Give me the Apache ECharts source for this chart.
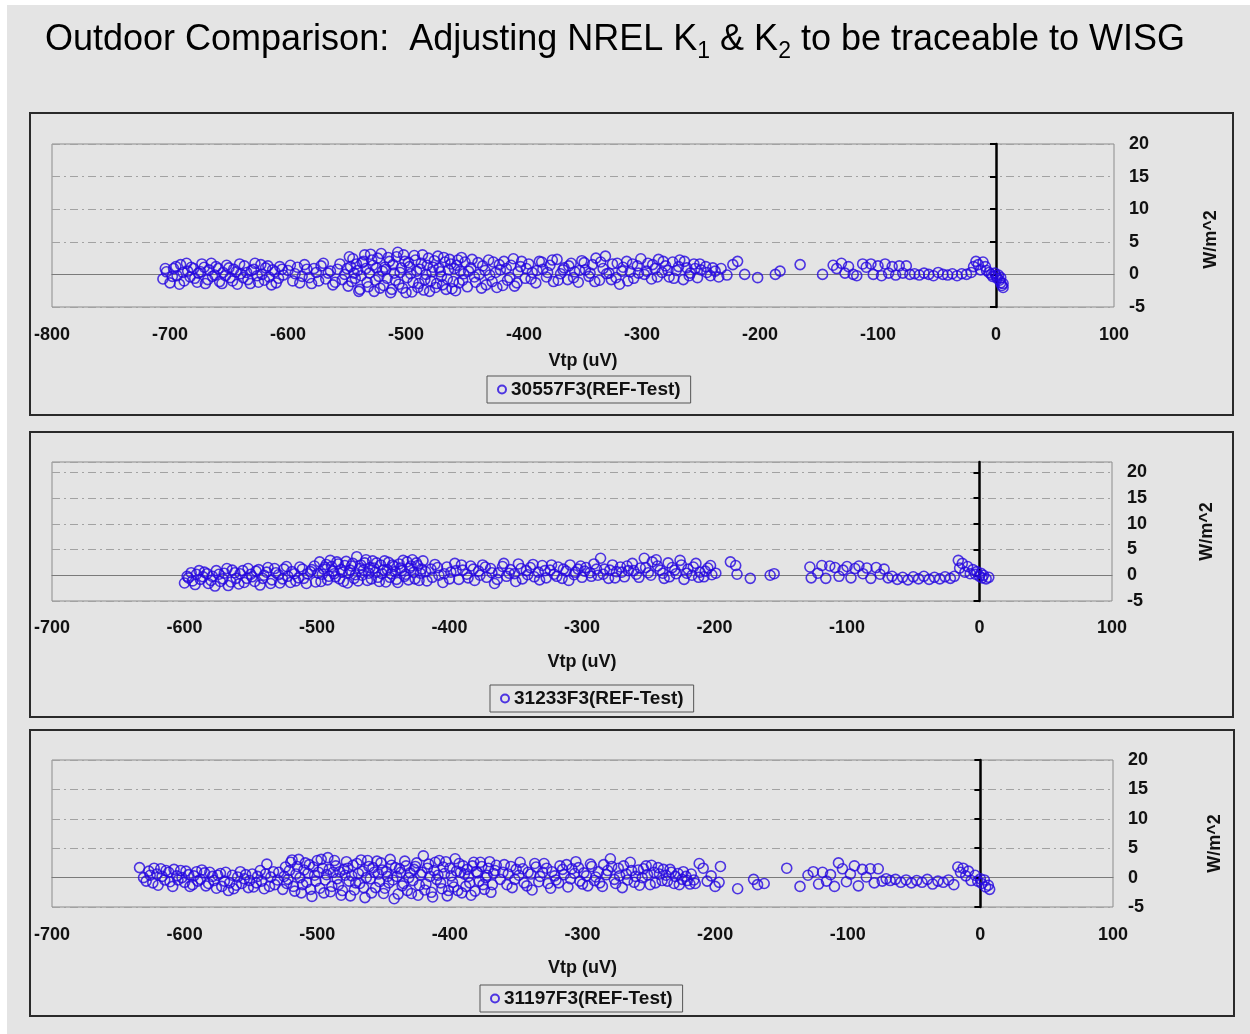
<!DOCTYPE html>
<html>
<head>
<meta charset="utf-8">
<script src="https://cdn.jsdelivr.net/npm/echarts@6/dist/echarts.min.js"></script>
<style>
  html, body { margin: 0; padding: 0; background: #fff; }
  #chart { width: 1250px; height: 1034px; }
</style>
</head>
<body>
<div id="chart"></div>
<script>
  // ---- data ----
  const seriesNames = ['30557F3(REF-Test)', '31233F3(REF-Test)', '31197F3(REF-Test)'];
  const xMins = [-800, -700, -700];
  const xMax = 100;
  const yMin = -5;
  const yMaxs = [20, 22, 20];
  const yTicks = [-5, 0, 5, 10, 15, 20];

  // 30557F3 : [Vtp uV, W/m^2]
  const pts1 = [
    [-706,-0.7],[-703,0.4],[-700,-1.3],[-697,0.9],[-694,-0.2],[-691,1.5],[-688,-1.0],[-685,0.5],[-682,1.1],[-679,-0.6],
    [-676,0.2],[-673,1.6],[-670,-1.4],[-667,0.7],[-664,-0.3],[-661,1.2],[-658,-1.1],[-655,0.3],[-652,1.4],[-649,-0.5],
    [-646,0.8],[-643,-1.5],[-640,0.1],[-637,1.3],[-634,-0.8],[-631,0.6],[-628,1.7],[-625,-1.2],[-622,0.0],[-619,1.0],
    [-616,-0.4],[-613,0.7],[-610,-1.3],[-607,1.2],[-604,-0.1],
    [-704,0.9],[-698,-0.3],[-695,1.2],[-692,-1.5],[-689,0.3],[-686,1.7],[-683,-0.4],[-680,0.9],[-677,-1.2],[-674,0.4],
    [-671,1.1],[-668,-0.8],[-665,1.7],[-662,-0.1],[-659,0.9],[-656,-1.4],[-653,-0.2],[-650,1.0],[-647,-1.0],[-644,0.4],
    [-641,1.6],[-638,-0.5],[-635,0.3],[-632,-1.4],[-629,0.8],[-626,-0.2],[-623,1.5],[-620,-0.9],[-617,1.3],[-614,-1.6],
    [-611,0.4],[-608,-0.6],[-605,0.8],
    [-600,0.6],[-596,-1.0],[-592,1.1],[-588,-0.3],[-584,0.8],[-580,-1.4],[-576,0.3],[-572,1.3],[-568,-0.7],[-564,0.5],
    [-560,-1.2],[-556,1.6],[-552,0.0],
    [-598,1.4],[-594,0.1],[-590,-1.3],[-586,1.5],[-582,-0.5],[-578,0.9],[-574,-1.0],[-570,1.7],[-566,0.2],[-562,-1.6],
    [-558,0.8],[-554,-0.8],
    [-549,-1.8],[-547,1.2],[-545,2.4],[-543,-0.6],[-541,0.6],[-539,-2.3],[-537,1.8],[-535,3.0],[-533,-1.2],[-531,0.2],
    [-529,2.2],[-527,-2.6],[-525,1.0],[-523,-0.3],[-521,3.2],[-519,-1.7],[-517,0.8],[-515,2.6],[-513,-2.8],[-511,1.5],
    [-509,-0.9],[-507,3.4],[-505,0.3],[-503,-2.1],[-501,2.0],[-499,-0.5],[-497,1.2],[-495,-2.7],[-493,2.9],[-491,0.5],
    [-489,-1.4],[-487,1.7],[-485,-2.4],[-483,0.0],[-481,2.5],[-479,-1.0],[-477,1.1],[-475,-2.0],[-473,2.8],[-471,0.4],
    [-469,-1.6],[-467,1.9],[-465,-0.7],[-463,2.3],[-461,-2.2],[-459,0.9],[-457,1.4],[-455,-1.3],[-453,2.6],[-451,0.1],
    [-550,0.9],[-548,2.7],[-546,-1.1],[-544,0.2],[-542,1.6],[-540,-2.6],[-538,-0.2],[-536,2.0],[-534,0.9],[-532,-1.9],
    [-530,3.1],[-528,1.4],[-526,-0.9],[-524,2.5],[-522,-2.1],[-520,0.5],[-518,1.1],[-516,-0.6],[-514,2.0],[-512,-2.3],
    [-510,0.2],[-508,2.7],[-506,-1.5],[-504,1.0],[-502,3.0],[-500,-2.8],[-498,1.8],[-496,0.1],[-494,-1.2],[-492,2.2],
    [-490,-2.0],[-488,0.8],[-486,3.0],[-484,-0.8],[-482,1.4],[-480,-2.6],[-478,0.4],[-476,2.1],[-474,-1.4],[-472,1.0],
    [-470,-0.3],[-468,2.6],[-466,-2.3],[-464,0.7],[-462,1.6],[-460,-1.1],[-458,-2.5],[-456,2.2],[-454,0.5],[-452,-0.9],
    [-450,1.9],
    [-448,-1.9],[-445,1.0],[-442,-0.4],[-439,1.8],[-436,-2.1],[-433,0.6],[-430,2.2],[-427,-1.1],[-424,0.3],[-421,1.5],
    [-418,-1.7],[-415,0.9],[-412,-0.5],[-409,2.4],[-406,-1.3],[-403,1.2],
    [-447,0.5],[-444,2.3],[-441,-1.2],[-438,0.0],[-435,1.3],[-432,-1.6],[-429,-0.1],[-426,1.9],[-423,-2.0],[-420,0.7],
    [-417,2.0],[-414,-0.9],[-411,1.4],[-408,-1.8],[-405,0.4],[-402,2.0],
    [-399,-0.6],[-396,1.6],[-393,0.3],[-390,-1.3],[-387,2.0],[-384,0.8],[-381,-0.4],[-378,1.4],[-375,-1.1],[-372,2.3],
    [-369,0.1],[-366,1.0],[-363,-0.8],[-360,1.7],[-357,0.4],[-354,-1.2],[-351,2.1],[-348,0.7],[-345,-0.3],[-342,1.5],
    [-339,2.5],[-336,-0.9],[-333,0.9],[-331,2.8],[-328,0.2],[-325,1.6],[-322,-0.5],[-319,-1.5],[-316,1.1],[-313,2.0],
    [-310,0.4],[-307,-0.6],[-304,1.3],[-301,2.4],
    [-398,0.9],[-394,-0.7],[-389,0.6],[-385,1.9],[-380,0.3],[-376,2.2],[-371,-0.9],[-367,0.7],[-362,1.3],[-358,-0.5],
    [-353,0.6],[-349,1.8],[-344,0.2],[-340,-1.1],[-335,1.9],[-330,0.1],[-326,-0.8],[-321,1.7],[-317,0.5],[-312,-1.0],
    [-308,1.6],[-303,0.2],
    [-298,0.0],[-295,1.7],[-292,-0.7],[-289,0.9],[-286,2.3],[-283,0.3],[-280,1.3],[-277,-0.4],[-274,1.9],[-271,0.6],
    [-268,2.2],[-265,-0.8],[-262,1.0],[-259,0.2],[-256,1.6],[-253,-0.5],[-250,0.7],[-246,1.2],[-242,-0.2],[-238,0.5],
    [-233,0.9],[-228,-0.1],
    [-296,0.5],[-291,1.5],[-287,-0.4],[-282,2.0],[-278,0.6],[-273,-0.6],[-269,1.2],[-264,2.0],[-260,-0.2],[-255,0.9],
    [-251,1.6],[-245,0.3],[-240,1.0],[-235,-0.4],
    [-223,1.5],[-219,2.0],[-213,0.0],[-202,-0.5],[-187,0.0],[-183,0.5],[-166,1.5],[-147,0.0],
    [-138,1.4],[-135,0.9],[-131,1.7],[-128,0.2],[-125,1.2],[-121,0.0],[-118,-0.2],
    [-113,1.6],[-110,1.1],[-106,1.6],[-104,0.0],[-100,1.3],[-97,-0.2],[-94,1.6],[-91,0.2],[-88,1.2],[-85,-0.1],
    [-82,1.3],[-79,0.2],[-76,1.3],[-73,0.0],
    [-69,0.1],[-65,-0.1],[-61,0.2],[-57,0.0],[-53,-0.2],[-49,0.3],[-45,0.0],[-41,-0.1],[-37,0.1],[-33,-0.2],
    [-29,0.1],[-25,0.0],[-21,0.3],
    [-19,1.2],[-17,2.0],[-15,1.5],[-13,0.7],[-11,1.9],[-9,1.2],[-8,0.6],
    [-6,0.3],[-4,0.0],[-3,-0.3],[-1,0.2],[0,-0.2],[1,-0.6],[2,-0.1],[3,-0.9],[4,-0.5],[4,-1.3],
    [5,-1.7],[6,-1.4],[6,-2.0]
  ];

  // 31233F3
  const pts2 = [
    [-600,-1.5],[-597,-0.5],[-594,-1.1],[-591,0.2],[-588,-0.8],[-585,0.6],[-582,-1.6],[-579,-0.2],[-576,0.9],[-573,-1.2],
    [-570,0.4],[-567,-2.0],[-564,1.0],[-561,-0.6],
    [-558,0.3],[-555,-1.4],[-552,1.3],[-549,-0.3],[-546,0.8],[-543,-1.9],[-540,0.0],[-537,1.5],[-534,-0.9],[-531,0.5],
    [-528,-1.5],[-525,1.2],[-522,-0.2],[-519,0.7],[-516,-1.1],[-513,1.6],[-510,-0.6],[-507,0.3],[-504,1.1],[-501,-1.3],
    [-598,-0.2],[-595,0.5],[-592,-1.8],[-589,0.9],[-586,-0.3],[-583,0.3],[-580,-1.0],[-577,-2.1],[-574,0.2],[-571,-0.7],
    [-568,1.3],[-565,-1.3],[-562,0.5],[-559,-1.7],[-556,0.9],[-553,-0.6],[-550,0.2],[-547,-1.2],[-544,1.1],[-541,-0.6],
    [-538,0.6],[-535,-1.6],[-532,1.3],[-529,0.1],[-526,-0.7],[-523,1.7],[-520,-1.4],[-517,0.3],[-514,-0.5],[-511,1.2],
    [-508,-1.6],[-505,0.7],[-502,1.8],
    [-498,2.6],[-496,0.2],[-494,1.6],[-492,-0.9],[-490,2.9],[-488,0.8],[-486,-0.3],[-484,2.2],[-482,1.1],[-480,-1.2],
    [-478,2.7],[-476,0.5],[-474,1.8],[-472,-0.6],[-470,3.6],[-468,1.3],[-466,0.0],[-464,2.4],[-462,-1.0],[-460,1.5],
    [-458,2.8],[-456,0.6],[-454,-0.4],[-452,2.0],[-450,1.0],[-448,-1.3],[-446,2.5],[-444,0.3],[-442,1.7],[-440,-0.8],
    [-438,2.2],[-436,0.9],[-434,-0.2],[-432,2.6],[-430,1.4],[-428,3.0],[-426,-0.7],[-424,1.9],[-422,0.4],[-420,2.8],
    [-499,0.4],[-497,-1.2],[-495,1.2],[-493,2.1],[-491,-0.2],[-489,1.7],[-487,0.3],[-485,2.6],[-483,-0.7],[-481,0.6],
    [-479,1.9],[-477,-1.5],[-475,1.0],[-473,2.3],[-471,0.1],[-469,-1.1],[-467,2.0],[-465,1.0],[-463,3.0],[-461,0.4],
    [-459,-0.7],[-457,1.4],[-455,2.4],[-453,-1.2],[-451,0.3],[-449,2.8],[-447,1.1],[-445,-0.4],[-443,2.0],[-441,0.7],
    [-439,-1.4],[-437,1.4],[-435,2.9],[-433,0.2],[-431,-0.9],[-429,1.8],[-427,0.6],[-425,2.4],[-423,-1.0],[-421,1.2],
    [-417,-1.1],[-414,1.2],[-411,2.1],[-408,0.0],[-405,-1.4],[-402,1.6],[-399,0.6],[-396,2.3],[-393,-0.8],[-390,1.0],
    [-387,0.2],[-384,1.8],[-381,-1.0],[-378,0.8],[-375,2.0],[-372,-0.4],[-369,1.3],[-366,-1.6],[-363,0.5],[-360,1.7],
    [-357,-0.2],[-354,1.1],[-351,0.3],[-348,2.2],[-345,-0.7],[-342,0.9],[-339,1.5],[-336,-0.3],[-333,0.6],[-330,1.9],
    [-327,-0.5],[-324,1.0],[-321,0.2],[-318,1.6],[-315,-0.6],[-312,0.8],[-309,2.0],[-306,0.1],[-303,1.2],
    [-418,0.7],[-413,-0.4],[-409,1.5],[-404,0.3],[-400,-0.7],[-395,0.9],[-391,2.0],[-386,-0.5],[-382,1.2],[-377,0.0],
    [-373,1.6],[-368,0.5],[-364,-0.8],[-359,2.3],[-355,0.4],[-350,-1.2],[-346,1.3],[-341,0.1],[-337,2.1],[-332,-0.9],
    [-328,0.9],[-323,2.0],[-319,-0.2],[-314,1.2],[-310,-1.0],[-305,0.6],[-301,1.8],
    [-300,-0.4],[-297,1.5],[-294,0.5],[-291,2.2],[-288,0.0],[-286,3.3],[-283,1.2],[-280,-0.6],[-277,2.0],[-274,0.7],
    [-271,1.6],[-268,-0.3],[-265,0.9],[-262,2.3],[-259,0.2],[-256,1.4],[-253,3.3],[-250,0.5],[-247,2.6],[-244,3.0],
    [-241,1.0],[-238,-0.6],[-235,2.4],[-232,1.5],[-229,0.3],[-226,2.9],[-223,-0.8],[-220,1.2],[-217,0.0],[-214,2.3],
    [-211,0.6],[-208,-0.3],[-205,1.4],[-202,0.1],[-199,0.4],
    [-298,0.8],[-293,-0.2],[-289,1.2],[-284,0.2],[-279,1.0],[-275,-0.5],[-270,0.6],[-266,1.8],[-261,0.9],[-257,-0.4],
    [-252,1.5],[-248,0.0],[-243,1.8],[-239,0.4],[-234,-0.3],[-230,1.0],[-225,2.0],[-221,0.4],[-216,1.6],[-212,-0.4],
    [-207,0.8],[-203,1.9],
    [-188,2.6],[-184,1.9],[-183,0.2],[-173,-0.6],[-158,0.0],[-155,0.3],
    [-128,1.6],[-127,-0.5],[-122,0.4],[-119,1.9],[-116,-0.6],[-113,1.8],[-109,1.5],[-106,-0.2],[-103,1.0],[-100,1.7],
    [-97,-0.5],[-94,1.3],[-91,1.8],[-88,0.3],[-85,1.4],[-82,-0.6],[-78,1.5],[-75,0.2],[-72,1.2],[-69,-0.5],
    [-66,-0.2],[-62,-0.8],[-58,-0.4],[-54,-0.9],[-50,-0.3],[-46,-0.7],[-42,-0.2],[-38,-0.8],[-34,-0.4],[-30,-0.7],
    [-26,-0.3],[-22,-0.6],[-19,-0.2],
    [-16,2.9],[-15,1.4],[-13,2.3],[-11,0.6],[-9,1.7],[-7,0.3],[-5,1.1],[-3,0.2],[-2,0.7],[0,-0.2],
    [1,0.4],[2,-0.5],[3,0.0],[5,-0.7],[7,-0.4]
  ];

  // 31197F3
  const pts3 = [
    [-634,1.7],[-631,0.0],[-627,1.1],[-624,-0.9],[-621,0.6],[-618,1.5],[-615,-0.4],[-612,0.9],[-609,-1.5],[-606,0.3],
    [-603,1.2],[-600,-0.8],[-597,0.5],[-594,-1.2],[-591,1.0],[-588,-0.3],[-585,0.8],
    [-582,-1.0],[-579,0.2],[-576,-1.8],[-573,0.7],[-570,-0.6],[-567,-2.2],[-564,0.4],[-561,-1.3],[-558,1.0],[-555,-0.2],
    [-552,-1.7],[-549,0.6],[-546,-0.9],[-543,1.2],[-540,-1.9],[-538,2.3],[-535,0.1],[-532,-1.2],[-529,0.9],
    [-629,-0.6],[-626,0.4],[-623,1.6],[-620,-1.3],[-617,0.2],[-614,1.2],[-611,-0.7],[-608,1.4],[-605,-0.4],[-602,0.0],
    [-599,1.1],[-596,-1.5],[-593,0.3],[-590,-0.6],[-587,1.3],[-584,-1.4],[-581,0.9],[-578,-0.5],[-575,0.4],[-572,-1.5],
    [-569,0.9],[-566,-0.9],[-563,-1.9],[-560,0.1],[-557,-1.0],[-554,0.5],[-551,-0.5],[-548,-1.6],[-545,0.2],[-542,-0.6],
    [-539,0.6],[-536,-1.5],[-533,1.0],[-530,-0.4],
    [-526,-2.0],[-524,1.8],[-522,-0.3],[-520,2.6],[-518,-1.5],[-516,0.6],[-514,3.1],[-512,-2.6],[-510,1.3],[-508,-0.8],
    [-506,2.2],[-504,-3.2],[-502,0.4],[-500,2.9],[-498,-1.8],[-496,1.6],[-494,-0.4],[-492,3.4],[-490,-2.4],[-488,0.9],
    [-486,2.0],[-484,-1.2],[-482,-3.0],[-480,1.4],[-478,2.7],[-476,-0.6],[-474,0.3],[-472,-2.1],[-470,2.4],[-468,-1.0],
    [-466,1.1],[-464,-3.4],[-462,2.9],[-460,-0.2],[-458,1.7],[-456,-1.7],[-454,0.6],[-452,2.5],[-450,-2.7],[-448,1.0],
    [-446,-0.9],[-444,2.1],[-442,-3.6],[-440,0.2],[-438,1.5],[-436,-1.4],[-434,2.8],[-432,-2.2],[-430,0.8],[-428,-0.5],
    [-426,1.9],[-424,-3.0],[-422,0.5],[-420,3.7],[-418,-1.1],[-416,2.3],[-414,-2.5],[-412,1.2],[-410,-0.3],[-408,2.9],
    [-406,-1.9],[-404,0.7],[-402,-3.1],
    [-525,0.2],[-523,-1.0],[-521,1.2],[-519,3.0],[-517,-2.3],[-515,1.9],[-513,0.0],[-511,-1.2],[-509,2.5],[-507,0.7],
    [-505,-2.0],[-503,1.8],[-501,-0.6],[-499,0.9],[-497,3.1],[-495,-2.6],[-493,0.5],[-491,1.4],[-489,-1.5],[-487,2.9],
    [-485,-0.2],[-483,1.0],[-481,-2.2],[-479,0.4],[-477,1.6],[-475,-3.1],[-473,2.1],[-471,-0.9],[-469,0.7],[-467,3.0],
    [-465,-1.7],[-463,0.0],[-461,1.9],[-459,-2.6],[-457,0.9],[-455,2.8],[-453,-0.7],[-451,1.3],[-449,-1.8],[-447,0.2],
    [-445,3.1],[-443,-0.4],[-441,1.7],[-439,-2.8],[-437,0.9],[-435,-1.0],[-433,2.0],[-431,0.0],[-429,-2.7],[-427,1.4],
    [-425,2.5],[-423,-1.3],[-421,0.9],[-419,-2.1],[-417,1.6],[-415,0.2],[-413,-3.3],[-411,2.6],[-409,0.4],[-407,-0.9],
    [-405,1.8],[-403,2.7],[-401,-2.2],
    [-400,1.6],[-398,-0.8],[-396,3.2],[-394,-2.2],[-392,0.9],[-390,2.0],[-388,-1.5],[-386,0.2],[-384,-3.0],[-382,2.6],
    [-380,1.0],[-378,-0.6],[-376,1.9],[-374,-2.0],[-372,0.4],[-370,2.7],[-368,-1.2],[-366,1.2],
    [-399,0.3],[-397,-1.6],[-395,1.1],[-393,2.4],[-391,-2.6],[-389,0.6],[-387,1.4],[-385,-0.9],[-383,2.0],[-381,-2.3],
    [-379,0.8],[-377,2.6],[-375,-1.2],[-373,0.0],[-371,1.6],[-369,-2.5],[-367,0.7],[-365,2.1],
    [-362,-0.3],[-359,2.2],[-356,0.6],[-353,-1.7],[-350,1.4],[-347,2.6],[-344,-0.9],[-341,0.9],[-338,-2.1],[-335,1.8],
    [-332,0.2],[-329,2.4],[-326,-1.0],[-323,1.0],[-320,-0.4],[-317,2.0],[-314,0.5],[-311,-1.6],[-308,1.5],[-305,2.7],
    [-302,-0.6],[-299,0.8],[-296,-1.4],[-293,1.9],[-290,0.1],[-287,-0.9],[-284,2.2],[-281,1.2],[-279,3.2],[-276,-0.3],
    [-273,1.6],[-270,-1.7],[-267,0.6],[-264,2.6],[-261,-0.8],[-258,1.3],[-255,0.0],[-252,2.0],[-249,-1.2],[-246,0.9],
    [-243,1.7],[-240,-0.5],[-237,0.4],[-234,1.4],[-231,-1.0],[-228,0.7],[-225,-0.3],[-222,0.2],[-219,-1.1],[-216,-0.4],
    [-360,0.9],[-357,-1.2],[-354,1.9],[-351,-0.3],[-348,0.4],[-345,1.5],[-342,-1.4],[-339,0.6],[-336,2.4],[-333,-0.7],
    [-330,0.9],[-327,1.6],[-324,-1.8],[-321,0.3],[-318,-0.9],[-315,1.4],[-312,2.2],[-309,-0.2],[-306,0.7],[-303,1.7],
    [-300,-1.1],[-297,0.3],[-294,2.3],[-291,-0.5],[-288,1.0],[-285,-1.5],[-282,0.5],[-278,1.9],[-275,-1.0],[-272,0.3],
    [-269,2.0],[-266,-0.4],[-263,1.2],[-260,0.2],[-257,-1.3],[-254,1.5],[-251,0.5],[-248,2.1],[-245,-0.9],[-242,0.6],
    [-239,1.4],[-236,-0.6],[-233,0.9],[-230,0.2],[-227,-1.2],[-224,1.0],[-221,-0.5],[-218,0.6],[-215,-1.0],
    [-212,2.4],[-209,1.6],[-206,-0.6],[-203,0.3],[-200,-1.5],[-197,-0.8],[-196,1.9],
    [-183,-1.9],[-171,-0.3],[-168,-1.2],[-163,-1.0],[-146,1.6],[-136,-1.5],[-130,0.4],[-126,1.0],[-122,-1.1],[-119,0.9],
    [-116,-0.6],[-113,0.5],[-110,-1.5],[-107,2.5],[-104,1.5],[-101,-0.7],[-98,0.6],[-95,2.0],[-92,-1.4],[-89,1.4],
    [-86,0.1],[-83,1.5],[-80,-0.9],[-77,1.5],[-74,-0.6],[-71,-0.2],[-68,-0.5],[-64,-0.3],[-60,-0.8],[-56,-0.4],
    [-52,-0.9],[-48,-0.5],[-44,-0.8],[-40,-0.3],[-36,-1.1],[-32,-0.6],[-28,-0.8],[-24,-0.4],[-20,-1.2],
    [-17,1.8],[-15,0.9],[-13,1.6],[-11,0.3],[-9,1.1],[-7,-0.5],[-4,0.4],[-2,-0.6],[0,-0.2],[1,-1.0],
    [3,-0.4],[4,-1.6],[6,-1.3],[7,-2.0]
  ];
  const allPts = [pts1, pts2, pts3];

  // ---- layout ----
  const FONT = '"Liberation Sans", Arial, sans-serif';
  const BG = '#e4e4e4';
  const MARK = '#2608e0';
  const grids = [
    {left: 52, top: 144, width: 1062, height: 163},
    {left: 52, top: 462, width: 1060, height: 139},
    {left: 52, top: 760, width: 1061, height: 147}
  ];
  const panels = [
    {x: 30, y: 113, w: 1203, h: 302},
    {x: 30, y: 432, w: 1203, h: 285},
    {x: 30, y: 730, w: 1204, h: 286}
  ];
  const legendPos = [{left: 487, top: 376}, {left: 490, top: 685}, {left: 480, top: 985}];
  const xLabelMargin = [19, 18, 19];
  const xNameGap = [45, 52, 52];
  const yNameGap = [88, 86, 93];

  const chart = echarts.init(document.getElementById('chart'));

  const xAxis = [], yAxis = [], series = [], legend = [];
  const labelStyle = {fontSize: 18, fontWeight: 'bold', color: '#111', fontFamily: FONT};

  grids.forEach((g, i) => {
    // x axis carrying the tick labels at the bottom of the plot
    xAxis.push({
      gridIndex: i, type: 'value', position: 'bottom',
      min: xMins[i], max: xMax, interval: 100,
      axisLine: {show: false, onZero: false},
      axisTick: {show: false},
      splitLine: {show: false},
      axisLabel: Object.assign({margin: xLabelMargin[i]}, labelStyle),
      name: 'Vtp (uV)', nameLocation: 'middle', nameGap: xNameGap[i],
      nameTextStyle: labelStyle
    });
    // thin grey line at y = 0
    xAxis.push({
      gridIndex: i, type: 'value',
      min: xMins[i], max: xMax, interval: 100,
      axisLine: {show: true, onZero: true, lineStyle: {color: '#7a7a7a', width: 1.2}},
      axisTick: {show: false}, axisLabel: {show: false}, splitLine: {show: false}
    });
    // right-hand value labels + dash-dot gridlines
    yAxis.push({
      gridIndex: i, type: 'value', position: 'right',
      min: yMin, max: yMaxs[i], interval: 5,
      axisLine: {show: false, onZero: false},
      axisTick: {show: false},
      axisLabel: Object.assign({
        margin: 15, customValues: yTicks,
        formatter: v => (v % 5 === 0 ? v : '')
      }, labelStyle),
      splitLine: {show: true, lineStyle: {color: '#a2a2a2', width: 1, type: [8, 4, 2, 4]}},
      name: 'W/m^2', nameLocation: 'middle', nameRotate: 90, nameGap: yNameGap[i],
      nameTextStyle: Object.assign({padding: i === 0 ? [0, 28, 0, 0] : (i === 2 ? [0, 20, 0, 0] : 0)}, labelStyle)
    });
    // black vertical axis crossing at x = 0
    yAxis.push({
      gridIndex: i, type: 'value', position: 'left',
      min: yMin, max: yMaxs[i], interval: 5,
      axisLine: {show: true, onZero: true, lineStyle: {color: '#000', width: 2.5}},
      axisTick: {show: true, inside: false, length: 6, customValues: yTicks, lineStyle: {color: '#000', width: 2}},
      axisLabel: {show: false}, splitLine: {show: false}
    });
    series.push({
      type: 'scatter', name: seriesNames[i],
      xAxisIndex: 2 * i, yAxisIndex: 2 * i,
      data: allPts[i],
      symbol: 'circle', symbolSize: 10,
      itemStyle: {color: 'rgba(0,0,0,0)', borderColor: MARK, borderWidth: 1.6},
      emphasis: {disabled: true},
      z: 3
    });
    legend.push({
      data: [seriesNames[i]], left: legendPos[i].left, top: legendPos[i].top,
      orient: 'horizontal', icon: 'circle', itemWidth: 8, itemHeight: 8,
      padding: [4, 10, 4, 10], borderColor: '#555', borderWidth: 1, backgroundColor: BG,
      selectedMode: false,
      textStyle: {fontSize: 19, fontWeight: 'bold', color: '#111', fontFamily: FONT}
    });
  });

  const graphic = [
    {type: 'rect', shape: {x: 0, y: 0, width: 1250, height: 5}, style: {fill: '#fff'}, silent: true},
    {type: 'rect', shape: {x: 0, y: 0, width: 7, height: 1034}, style: {fill: '#fff'}, silent: true}
  ];
  panels.forEach(p => {
    graphic.push({
      type: 'rect', shape: {x: p.x, y: p.y, width: p.w, height: p.h},
      style: {fill: 'none', stroke: '#2a2a2a', lineWidth: 2}, silent: true
    });
  });

  chart.setOption({
    backgroundColor: BG,
    animation: false,
    title: {
      text: '{a|Outdoor Comparison:  Adjusting NREL K}{s|1}{a| & K}{s|2}{a| to be traceable to WISG}',
      left: 40, top: 12,
      textStyle: {
        fontWeight: 'normal',
        rich: {
          a: {fontSize: 36, fontWeight: 'normal', fontFamily: FONT, color: '#000', lineHeight: 46},
          s: {fontSize: 23, fontWeight: 'normal', fontFamily: FONT, color: '#000', lineHeight: 46, verticalAlign: 'bottom'}
        }
      }
    },
    grid: grids.map(g => Object.assign({show: true, borderColor: '#8c8c8c', borderWidth: 1, backgroundColor: 'transparent'}, g)),
    xAxis: xAxis,
    yAxis: yAxis,
    legend: legend,
    series: series,
    graphic: graphic
  });
</script>
</body>
</html>
